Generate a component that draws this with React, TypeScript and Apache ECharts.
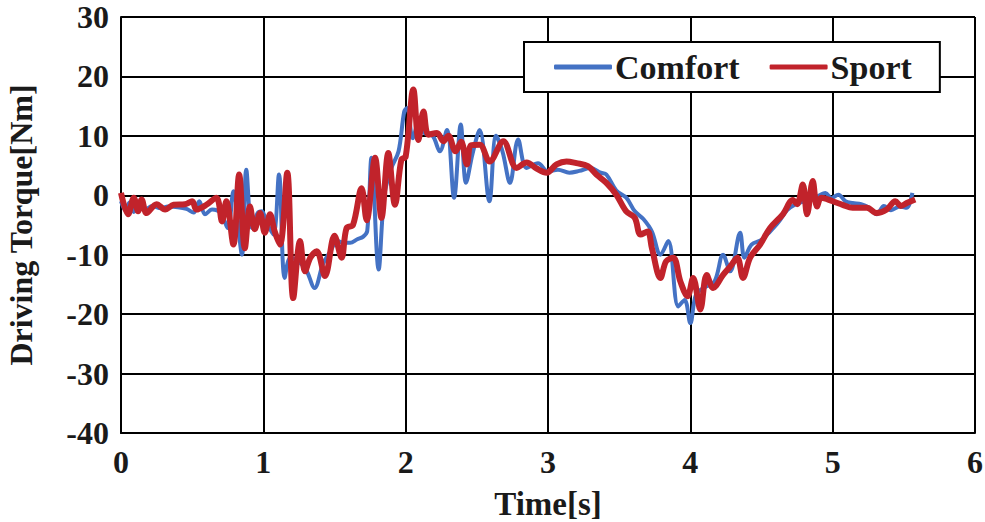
import React, { useEffect, useRef } from "react";
import * as echarts from "echarts";

const comfortTime = [
  0.0, 0.03, 0.06, 0.09, 0.13, 0.17, 0.22, 0.28, 0.33, 0.4, 0.46, 0.51, 0.55, 0.59, 0.64, 0.7,
  0.75, 0.79, 0.85, 0.88, 0.92, 0.96, 0.99, 1.02, 1.07, 1.11, 1.15, 1.19, 1.24, 1.3, 1.36, 1.42,
  1.47, 1.52, 1.57, 1.61, 1.66, 1.7, 1.73, 1.76, 1.81, 1.85, 1.9, 1.95, 1.99, 2.01, 2.05, 2.09,
  2.13, 2.19, 2.24, 2.29, 2.34, 2.387, 2.424, 2.47, 2.52, 2.588, 2.635, 2.68, 2.733, 2.79, 2.85,
  2.93, 3.0, 3.07, 3.15, 3.22, 3.3, 3.37, 3.41, 3.48, 3.55, 3.61, 3.67, 3.73, 3.79, 3.845, 3.915,
  3.96, 4.0, 4.04, 4.1, 4.17, 4.23, 4.28, 4.35, 4.38, 4.43, 4.5, 4.56, 4.62, 4.68, 4.74, 4.8,
  4.87, 4.95, 4.99, 5.04, 5.09, 5.14, 5.2, 5.25, 5.31, 5.36, 5.41, 5.47, 5.52, 5.56,
];
const comfortTorque = [
  -1.0, -2.5, -1.2, -2.8, -1.5, -2.4, -1.8, -2.2, -1.9, -2.0, -2.3, -2.9, -1.0, -3.2, -2.4, -3.0,
  -5.5, 0.7, -10.0, 4.3, -5.5, -3.0, -2.7, -4.4, -6.6, 3.5, -13.9, -10.5, -11.0, -12.5, -15.6, -11.5,
  -9.5, -7.7, -8.0, -8.0, -7.4, -7.0, -6.0, 6.3, -12.5, 0.0, 4.6, 7.4, 14.1, 14.7, 9.6, 12.0,
  10.5, 10.0, 7.4, 11.0, -0.4, 11.9, 2.1, 7.0, 11.0, -1.0, 10.0, 7.4, 2.1, 9.4, 4.6,
  5.4, 4.0, 4.3, 3.8, 4.1, 4.6, 3.8, 3.5, 0.8, -0.4, -2.7, -4.0, -6.1, -10.0, -7.7, -18.7,
  -17.6, -21.5, -16.7, -15.5, -14.5, -10.0, -12.8, -6.3, -10.5, -8.3, -7.5, -6.1, -4.5, -2.5, -1.5, -1.0,
  -0.5, 0.4, -0.5, 0.1, -1.0, -1.3, -1.5, -2.0, -3.2, -1.8, -2.5, -1.9, -2.1, 0.4,
];

const sportTime = [
  0.0, 0.05, 0.09, 0.12, 0.145, 0.18, 0.25, 0.31, 0.37, 0.45, 0.5, 0.53, 0.6, 0.67, 0.71, 0.74,
  0.79, 0.83, 0.87, 0.906, 0.94, 0.977, 1.01, 1.047, 1.08, 1.117, 1.168, 1.21, 1.258, 1.293, 1.33,
  1.375, 1.433, 1.5, 1.55, 1.585, 1.63, 1.69, 1.726, 1.785, 1.83, 1.878, 1.925, 1.97, 2.0, 2.054,
  2.09, 2.125, 2.16, 2.22, 2.265, 2.3, 2.35, 2.39, 2.43, 2.46, 2.52, 2.59, 2.686, 2.78, 2.85, 2.92,
  2.99, 3.06, 3.13, 3.2, 3.28, 3.34, 3.41, 3.48, 3.55, 3.61, 3.65, 3.7, 3.73, 3.79, 3.83, 3.88,
  3.93, 3.98, 4.02, 4.07, 4.115, 4.16, 4.23, 4.28, 4.33, 4.37, 4.42, 4.49, 4.56, 4.65, 4.72, 4.75,
  4.79, 4.82, 4.86, 4.89, 4.92, 5.0, 5.07, 5.14, 5.24, 5.31, 5.38, 5.44, 5.48, 5.52, 5.58,
];
const sportTorque = [
  0.4, -3.2, -0.4, -2.7, -0.7, -3.0, -1.5, -2.4, -1.6, -1.5, -1.0, -2.4, -1.6, -0.4, -4.4, -1.0,
  -8.3, 3.5, -8.9, -1.9, -5.7, -3.0, -6.3, -3.2, -6.1, -8.3, 3.8, -17.3, -7.7, -12.8, -10.5,
  -9.4, -13.6, -6.8, -10.5, -5.5, -5.0, 1.2, -4.2, 6.3, -3.8, 7.1, -1.6, 6.0, 6.5, 17.8,
  9.3, 14.1, 10.2, 10.5, 9.1, 10.0, 7.4, 9.0, 5.2, 8.4, 8.5, 5.7, 9.1, 4.6, 5.5, 4.5,
  3.8, 5.2, 5.7, 5.4, 4.9, 3.5, 2.1, 0.1, -2.7, -3.8, -6.6, -6.1, -8.9, -13.9, -11.1, -10.5,
  -14.5, -17.0, -13.9, -19.2, -13.4, -15.6, -13.4, -12.0, -10.5, -13.9, -10.5, -8.3, -5.5, -3.2, -0.8, -1.5,
  1.8, -3.2, 2.4, -1.9, -0.4, -1.0, -1.6, -2.1, -2.1, -3.0, -2.4, -1.0, -1.8, -1.3, -0.7,
];

const seriesNames = ["Comfort", "Sport"];
const xTicks = [0, 1, 2, 3, 4, 5, 6];
const yTicks = [-40, -30, -20, -10, 0, 10, 20, 30];

const FONT = "'Liberation Serif', 'Times New Roman', serif";

export default function App() {
  const ref = useRef<HTMLDivElement>(null);
  useEffect(() => {
    if (!ref.current) return;
    const chart = echarts.init(ref.current, undefined, { renderer: "svg" });
    const pair = (t: number[], v: number[]) => t.map((x, i) => [x, v[i]]);
    chart.setOption({
      animation: false,
      backgroundColor: "#ffffff",
      grid: { left: 121, right: 10, top: 17, bottom: 89, containLabel: false, outerBoundsMode: "none" },
      legend: {
        left: 524,
        top: 42,
        data: seriesNames.map((n) => ({ name: n, icon: "roundRect" })),
        backgroundColor: "#ffffff",
        borderColor: "#000000",
        borderWidth: 2,
        borderRadius: 0,
        padding: [8, 28, 8, 30],
        itemWidth: 58,
        itemHeight: 5,
        itemGap: 30,
        textStyle: { fontFamily: FONT, fontWeight: "bold", fontSize: 34, color: "#1a1a1a", padding: [0, 0, 0, -2] },
      },
      xAxis: {
        type: "value",
        min: xTicks[0],
        max: xTicks[xTicks.length - 1],
        interval: 1,
        name: "Time[s]",
        nameLocation: "middle",
        nameGap: 54,
        nameTextStyle: { fontFamily: FONT, fontWeight: "bold", fontSize: 33, color: "#1a1a1a" },
        axisLine: { onZero: false, lineStyle: { color: "#000", width: 2 } },
        axisTick: { show: false },
        splitLine: { show: true, lineStyle: { color: "#000", width: 2 } },
        axisLabel: { fontFamily: FONT, fontWeight: "bold", fontSize: 32, color: "#1a1a1a", margin: 13 },
      },
      yAxis: {
        type: "value",
        min: yTicks[0],
        max: yTicks[yTicks.length - 1],
        interval: 10,
        name: "Driving Torque[Nm]",
        nameLocation: "middle",
        nameGap: 84,
        nameTextStyle: { fontFamily: FONT, fontWeight: "bold", fontSize: 32, color: "#1a1a1a" },
        axisLine: { show: true, lineStyle: { color: "#000", width: 2 } },
        axisTick: { show: false },
        splitLine: { show: true, lineStyle: { color: "#000", width: 2 } },
        axisLabel: { fontFamily: FONT, fontWeight: "bold", fontSize: 32, color: "#1a1a1a", margin: 12 },
      },
      series: [
        {
          name: seriesNames[0],
          type: "line",
          data: pair(comfortTime, comfortTorque),
          symbol: "none",
          smooth: 0.35,
          lineStyle: { color: "#4472C4", width: 4 },
          itemStyle: { color: "#4472C4" },
          z: 2,
        },
        {
          name: seriesNames[1],
          type: "line",
          data: pair(sportTime, sportTorque),
          symbol: "none",
          smooth: 0.35,
          lineStyle: { color: "#C1232B", width: 6 },
          itemStyle: { color: "#C1232B" },
          z: 3,
        },
      ],
    });
    return () => chart.dispose();
  }, []);
  return (
    <div
      ref={ref}
      style={{ position: "absolute", left: 0, top: 0, width: 985, height: 522 }}
    />
  );
}
